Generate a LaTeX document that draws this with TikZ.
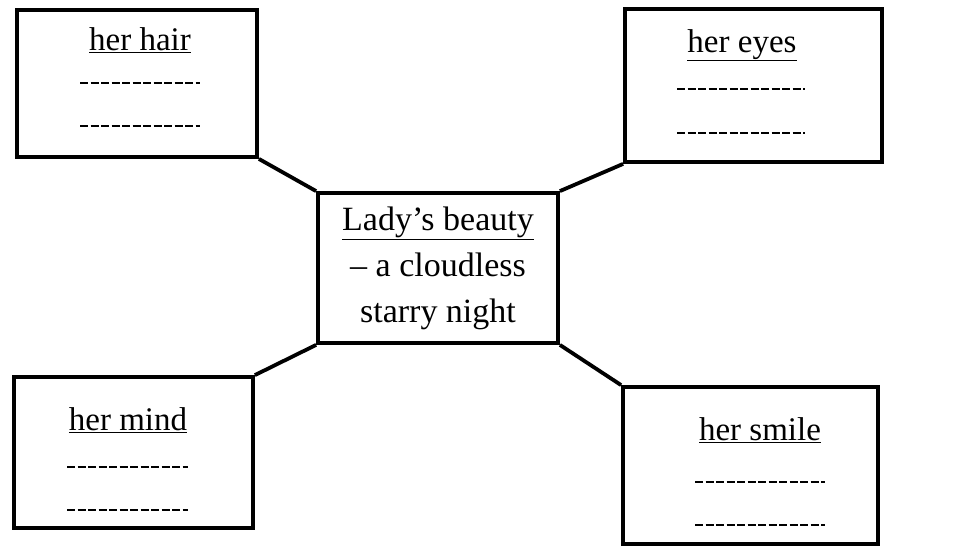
\documentclass[tikz,border=0pt]{standalone}
\usepackage{fontspec}
\setmainfont{Liberation Serif}
\usetikzlibrary{positioning}

\tikzset{
  card/.style={draw, line width=3.8pt, inner sep=0pt, minimum width=#1},
  title/.style={anchor=base, inner sep=0pt, font=\fontsize{33}{40}\selectfont},
  blank/.style={line width=2.6pt, dash pattern=on 8pt off 2.5pt},
  link/.style={line width=3.8pt},
}

\begin{document}
\begin{tikzpicture}[x=1pt, y=-1pt]
        \useasboundingbox (0,0) rectangle (962,558);
        % the four cards
        \node[card=240pt, minimum height=147pt] (hair) at (137,83.5){};
        \node[card=257pt, minimum height=153pt] (eyes) at (753.5,85.5){};
        \node[card=239pt, minimum height=151pt] (mind) at (133.5,452.5){};
        \node[card=255pt, minimum height=157pt] (smile) at (750.5,465.5){};
        % middle card
        \node[card=240pt, minimum height=150pt, align=center,
              font=\fontsize{34}{46}\selectfont] (beauty) at (438,268)
              {\underline{Lady’s beauty}\\– a cloudless\\starry night};
        % titles
        \node[title] (hairT) at (140,50){\underline{her hair}};
        \node[title] (eyesT) at (742,52){\underline{her eyes}};
        \node[title] (mindT) at (128,430){\underline{her mind}};
        \node[title] (smileT) at (760,440){\underline{her smile}};
        % blanks to fill
        \draw[blank](80,83)--(200,83);
        \draw[blank](80,126)--(200,126);
        \draw[blank](677,89)--(805,89);
        \draw[blank](677,133)--(805,133);
        \draw[blank](67,467)--(188,467);
        \draw[blank](67,510)--(188,510);
        \draw[blank](695,482)--(825,482);
        \draw[blank](695,525)--(825,525);
        % links
        \draw[link](hair.south east)--(beauty.north west);
        \draw[link](eyes.south west)--(beauty.north east);
        \draw[link](mind.north east)--(beauty.south west);
        \draw[link](smile.north west)--(beauty.south east);
    \end{tikzpicture}
\end{document}
